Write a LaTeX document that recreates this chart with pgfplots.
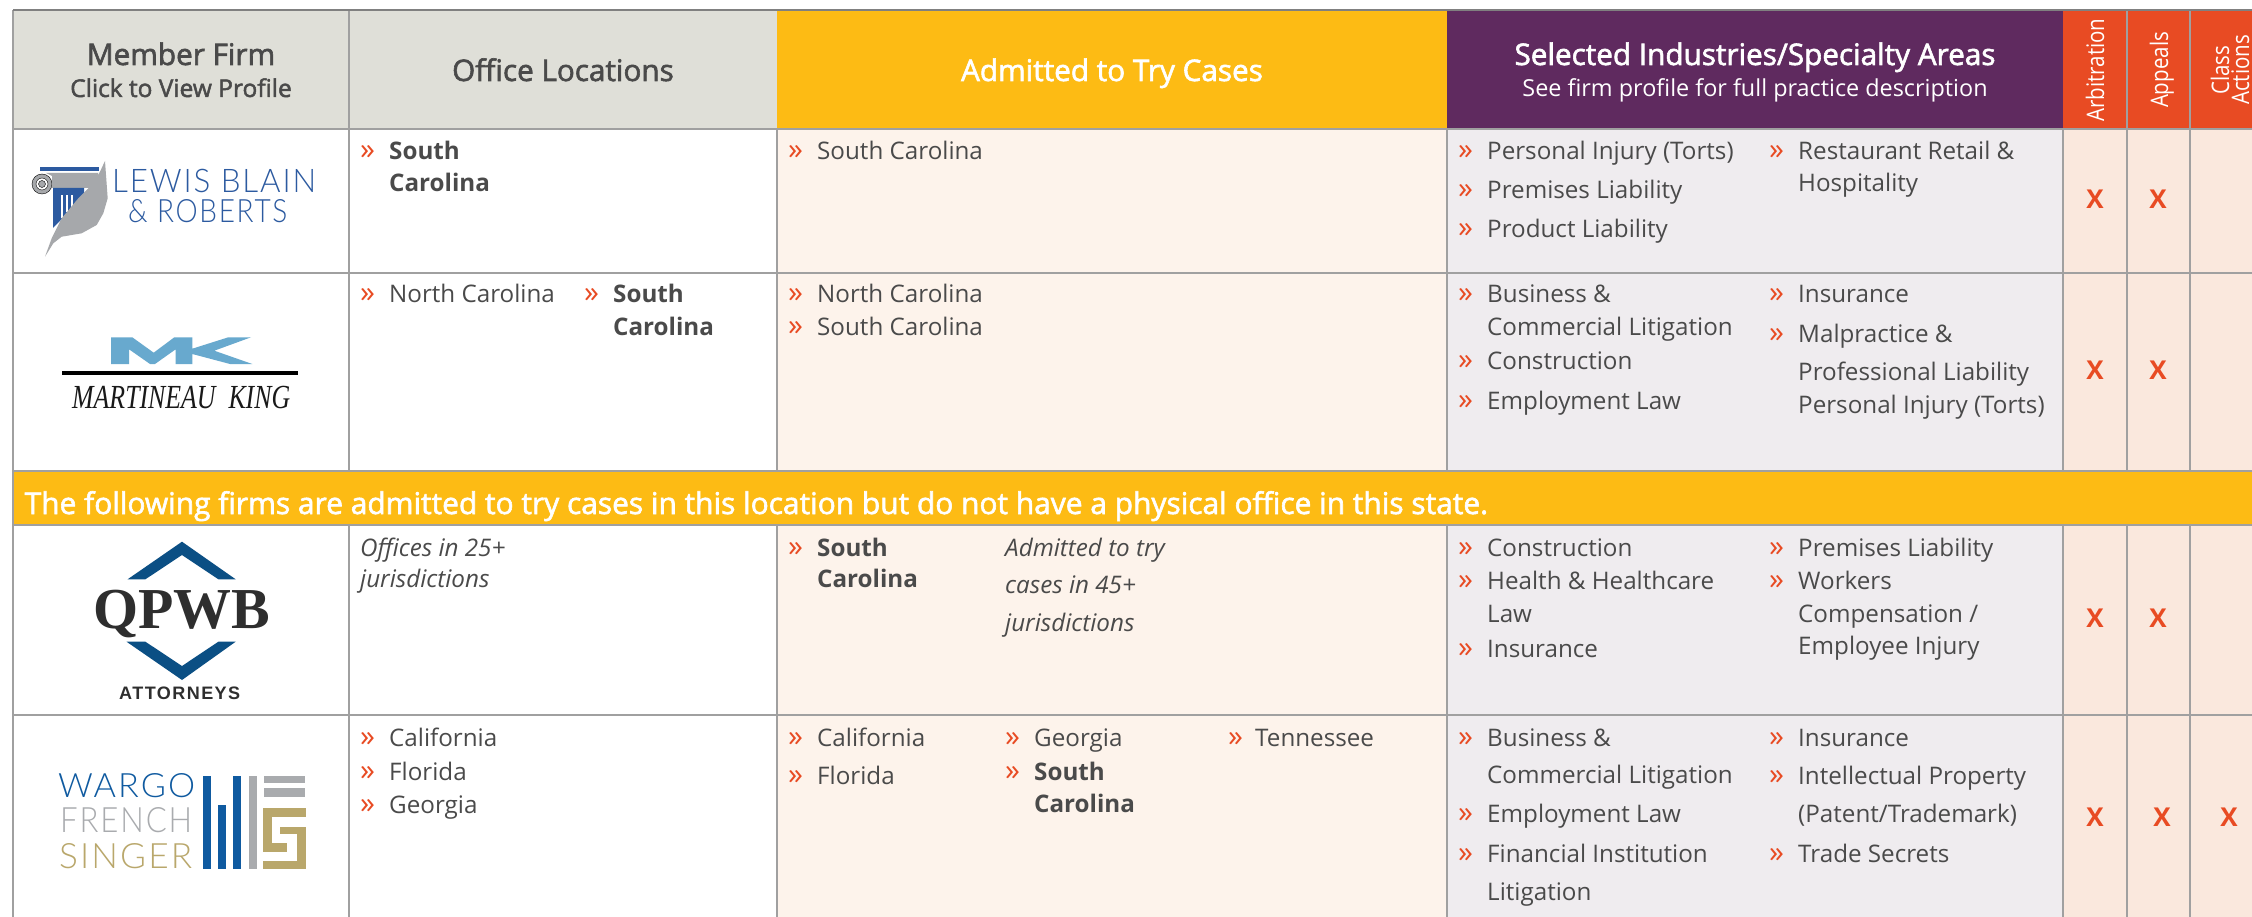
\documentclass[border=0pt]{standalone}
\usepackage{pgfplots}
\pgfplotsset{compat=1.18}
\usepackage{fontspec}
\setmainfont{Open Sans}
\newfontfamily\semib[FakeBold=2]{Open Sans}
\newfontfamily\serif{Liberation Serif}
\newfontfamily\lsans[LetterSpace=8]{Liberation Sans}
\newfontfamily\thin[LetterSpace=6]{Lato Light}
\definecolor{tx}{HTML}{4A4A4A}
\definecolor{red1}{HTML}{E84B23}
\definecolor{gold}{HTML}{FDBB14}
\definecolor{purp}{HTML}{5F2A5F}
\definecolor{hgray}{HTML}{DFDFD8}
\definecolor{peach}{HTML}{FDF3EB}
\definecolor{lilac}{HTML}{EFECEF}
\definecolor{xbg}{HTML}{FAE8DD}
\definecolor{bord}{HTML}{A0A0A0}
\definecolor{lbblue}{HTML}{2C5AA0}
\definecolor{lbgray}{HTML}{A6A8AB}
\definecolor{mkblue}{HTML}{68A9CE}
\definecolor{qblue}{HTML}{0B4F84}
\definecolor{wblue}{HTML}{0F5AA0}
\definecolor{wgray}{HTML}{A9ABAE}
\definecolor{wtan}{HTML}{B9A76B}
\newcommand{\rect}[5]{\addplot[fill=#1,draw=none,forget plot] coordinates {(#2,#3)(#4,#3)(#4,#5)(#2,#5)} --cycle;}
\newcommand{\hl}[4]{\addplot[draw=#4,line width=2pt,forget plot] coordinates {(#1,#3)(#2,#3)};}
\newcommand{\vl}[4]{\addplot[draw=#4,line width=1.6pt,forget plot] coordinates {(#1,#2)(#1,#3)};}
\newcommand{\poly}[2]{\addplot[fill=#1,draw=none,forget plot] coordinates {#2} --cycle;}
\newcommand{\body}{\fontsize{24.2}{30}\selectfont}
\newcommand{\T}[3]{\node[anchor=base west,inner sep=0pt,text=tx,font=\body] at (axis cs:#1,#2) {#3};}
\newcommand{\B}[3]{\node[anchor=base west,inner sep=0pt,text=tx,font=\body\bfseries] at (axis cs:#1,#2) {#3};}
\newcommand{\I}[3]{\node[anchor=base west,inner sep=0pt,text=tx,font=\body\itshape] at (axis cs:#1,#2) {#3};}
\newcommand{\Bu}[2]{\node[anchor=base west,inner sep=0pt,text=red1,font=\fontsize{30}{30}\selectfont] at (axis cs:#1,#2) {»};}
\newcommand{\Rot}[3]{\node[anchor=base,rotate=90,inner sep=0pt,text=white,font=\fontsize{20.5}{24}\selectfont] at (axis cs:#1,#2) {\scalebox{1}[1.18]{#3}};}
% logo text: colour, font, x, baseline, width, cap height, text
\newcommand{\LT}[7]{\node[anchor=base west,inner sep=0pt,text=#1] at (axis cs:#3,#4) {\resizebox{#5pt}{#6pt}{#2{}#7}};}
\begin{document}
\begin{tikzpicture}
\begin{axis}[xmin=0,xmax=2252,ymin=0,ymax=917,y dir=reverse,width=2252pt,height=917pt,scale only axis,hide axis,clip=true,clip mode=individual]
% backgrounds
\rect{white}{0}{0}{2252}{917}
\rect{hgray}{13}{10}{777}{129}
\rect{gold}{777}{10}{1447}{129}
\rect{purp}{1447}{10}{2063}{129}
\rect{red1}{2063}{10}{2252}{129}
\rect{peach}{777}{129}{1447}{917}
\rect{lilac}{1447}{129}{2063}{917}
\rect{xbg}{2063}{129}{2252}{917}
\rect{white}{13}{129}{777}{917}
\rect{gold}{13}{471}{2252}{525}
% lines
\vl{13}{10}{917}{bord}
\vl{349}{10}{129}{bord}
\vl{349}{129}{471}{bord}
\vl{349}{525}{917}{bord}
\vl{777}{129}{471}{bord}
\vl{777}{525}{917}{bord}
\vl{1447}{129}{471}{bord}
\vl{1447}{525}{917}{bord}
\vl{2063}{129}{471}{bord}
\vl{2063}{525}{917}{bord}
\vl{2127}{10}{471}{bord}
\vl{2127}{525}{917}{bord}
\vl{2190}{10}{471}{bord}
\vl{2190}{525}{917}{bord}
\hl{13}{2252}{129}{bord}
\hl{13}{2252}{273}{bord}
\hl{13}{2252}{471}{bord}
\hl{13}{2252}{525}{bord}
\hl{13}{2252}{715}{bord}
\hl{13}{2252}{10}{gray}
% header
\node[anchor=base,inner sep=0pt,text=tx,font=\fontsize{29.7}{30}\selectfont\semib] at (axis cs:181,65) {Member Firm};
\node[anchor=base,inner sep=0pt,text=tx,font=\fontsize{24.5}{30}\selectfont\semib] at (axis cs:181,97) {Click to View Profile};
\node[anchor=base,inner sep=0pt,text=tx,font=\fontsize{29.7}{30}\selectfont\semib] at (axis cs:563,81) {Office Locations};
\node[anchor=base,inner sep=0pt,text=white,font=\fontsize{29.7}{30}\selectfont\semib] at (axis cs:1112,81) {Admitted to Try Cases};
\node[anchor=base,inner sep=0pt,text=white,font=\fontsize{29.7}{30}\selectfont\semib] at (axis cs:1755,65) {Selected Industries/Specialty Areas};
\node[anchor=base,inner sep=0pt,text=white,font=\fontsize{23.4}{30}\selectfont] at (axis cs:1755,97) {See firm profile for full practice description};
\Rot{2104}{70}{Arbitration}
\Rot{2168}{70}{Appeals}
\Rot{2229}{70}{Class}
\Rot{2249}{70}{Actions}
\node[anchor=base west,inner sep=0pt,text=white,font=\fontsize{29.9}{30}\selectfont\semib] at (axis cs:24.5,514) {The following firms are admitted to try cases in this location but do not have a physical office in this state.};
% row 1
\Bu{360}{160}\B{389}{160}{South}\B{389}{192}{Carolina}
\Bu{788}{160}\T{817}{160}{South Carolina}
\Bu{1458}{160}\T{1487}{160}{Personal Injury (Torts)}
\Bu{1458}{199}\T{1487}{199}{Premises Liability}
\Bu{1458}{238}\T{1487}{238}{Product Liability}
\Bu{1769}{160}\T{1798}{160}{Restaurant Retail \&}\T{1798}{192}{Hospitality}
% row 2
\Bu{360}{303}\T{389}{303}{North Carolina}
\Bu{584}{303}\B{613}{303}{South}\B{613}{336}{Carolina}
\Bu{788}{303}\T{817}{303}{North Carolina}
\Bu{788}{336}\T{817}{336}{South Carolina}
\Bu{1458}{303}\T{1487}{303}{Business \&}\T{1487}{336}{Commercial Litigation}
\Bu{1458}{370}\T{1487}{370}{Construction}
\Bu{1458}{409}\T{1487}{409}{Employment Law}
\Bu{1769}{303}\T{1798}{303}{Insurance}
\Bu{1769}{343}\T{1798}{343}{Malpractice \&}
\T{1798}{380}{Professional Liability}\T{1798}{413}{Personal Injury (Torts)}
% row 3
\I{360}{556}{Offices in 25+}\I{360}{587}{jurisdictions}
\Bu{788}{556}\B{817}{556}{South}\B{817}{587}{Carolina}
\I{1005}{556}{Admitted to try}\I{1005}{593}{cases in 45+}\I{1005}{631}{jurisdictions}
\Bu{1458}{556}\T{1487}{556}{Construction}
\Bu{1458}{589}\T{1487}{589}{Health \& Healthcare}\T{1487}{622}{Law}
\Bu{1458}{657}\T{1487}{657}{Insurance}
\Bu{1769}{556}\T{1798}{556}{Premises Liability}
\Bu{1769}{589}\T{1798}{589}{Workers}\T{1798}{622}{Compensation /}\T{1798}{654}{Employee Injury}
% row 4
\Bu{360}{746}\T{389}{746}{California}
\Bu{360}{780}\T{389}{780}{Florida}
\Bu{360}{813}\T{389}{813}{Georgia}
\Bu{788}{746}\T{817}{746}{California}
\Bu{788}{784}\T{817}{784}{Florida}
\Bu{1005}{746}\T{1034}{746}{Georgia}
\Bu{1005}{780}\B{1034}{780}{South}\B{1034}{812}{Carolina}
\Bu{1228}{746}\T{1255}{746}{Tennessee}
\Bu{1458}{746}\T{1487}{746}{Business \&}\T{1487}{783}{Commercial Litigation}
\Bu{1458}{822}\T{1487}{822}{Employment Law}
\Bu{1458}{862}\T{1487}{862}{Financial Institution}\T{1487}{900}{Litigation}
\Bu{1769}{746}\T{1798}{746}{Insurance}
\Bu{1769}{784}\T{1798}{784}{Intellectual Property}\T{1798}{822}{(Patent/Trademark)}
\Bu{1769}{862}\T{1798}{862}{Trade Secrets}
% X marks
\addplot[only marks,mark=text,text mark={\color{red1}\fontsize{26}{26}\selectfont\bfseries X},forget plot] coordinates {
(2095,199)(2158,199)(2095,370)(2158,370)(2095,618)(2158,618)(2095,817)(2162,817)(2229,817)};
% Lewis Blain logo
\addplot[only marks,mark=*,mark size=10pt,mark options={fill=lbgray,draw=none},forget plot] coordinates {(42,184)};
\addplot[only marks,mark=*,mark size=6pt,mark options={fill=white,draw=none},forget plot] coordinates {(42,184)};
\addplot[only marks,mark=*,mark size=3.5pt,mark options={fill=lbgray,draw=none},forget plot] coordinates {(42,184)};
\poly{lbgray}{(46,173)(98,173)(100,188)(52,188)(52,176)}
\rect{lbblue}{40}{167}{99}{171}
\poly{lbblue}{(53,188)(84,188)(84,197)(53,228)}
\rect{white}{61}{195}{63}{218}
\rect{white}{66}{195}{68}{212}
\rect{white}{71}{195}{73}{207}
\poly{lbgray}{(105,161)(107.7,198.3)(103.3,213.3)(96.7,225)(81.7,233.3)(61.7,236.7)(53.3,243.3)(45,256.7)(51.7,238.3)(61.7,218.3)(78.3,198.3)(91.7,185)(100,171.7)}
\LT{lbblue}{\thin}{112}{192.7}{204}{23.3}{LEWIS BLAIN}
\LT{lbblue}{\thin}{128}{222.7}{159}{23}{\&~ROBERTS}
% MK logo
\poly{mkblue}{(111,337.3)(132.3,337.3)(153.7,352.7)(174.3,337.3)(192.3,337.3)(192.3,348.7)(228.3,337.3)(251,337.3)(214.3,350.7)(252.3,364)(230,364)(192.3,354)(192.3,364)(175.7,364)(175.7,349.3)(155,364)(150,364)(129,349.3)(129,364)(111,364)}
\rect{black}{62.3}{371}{298.3}{375.3}
\LT{black!90}{\serif\itshape}{72}{408.3}{218}{22.3}{MARTINEAU~ KING}
% QPWB logo
\poly{qblue}{(182,541.7)(235.7,579.3)(218.4,579.3)(182,555)(145.4,579.3)(127.6,579.3)}
\poly{qblue}{(126.5,641.7)(145.4,641.7)(182,666)(218.4,641.7)(235.7,641.7)(182,680)}
\node[anchor=base west,inner sep=0pt,text=black!82] at (axis cs:93,628) {\resizebox{177pt}{!}{\fontsize{60}{60}\selectfont\serif\bfseries QPWB}};
\node[anchor=base west,inner sep=0pt,text=black!82] at (axis cs:119,699) {\resizebox{121pt}{!}{\fontsize{16}{16}\selectfont\lsans\bfseries ATTORNEYS}};
% Wargo logo
\LT{wblue}{\thin}{58}{797.7}{137}{24}{WARGO}
\LT{wgray}{\thin}{60}{832.7}{132}{25}{FRENCH}
\LT{wtan}{\thin}{59}{868}{133}{25}{SINGER}
\rect{wblue}{203.3}{776}{211}{869}
\rect{wblue}{218.3}{805}{226}{869}
\rect{wblue}{233.3}{776}{241}{869}
\rect{wgray}{249}{776}{256.7}{869}
\rect{wgray}{264}{775.7}{305}{783.3}
\rect{wgray}{264}{788.3}{305}{797.3}
\rect{wtan}{263.3}{808.3}{305.7}{816.7}
\rect{wtan}{263.3}{808.3}{271.7}{851.7}
\rect{wtan}{263.3}{843.3}{287.3}{851.7}
\rect{wtan}{280}{826.7}{305.7}{834.3}
\rect{wtan}{297.3}{826.7}{305.7}{869}
\rect{wtan}{263.3}{861}{305.7}{869}
\end{axis}
\end{tikzpicture}
\end{document}
